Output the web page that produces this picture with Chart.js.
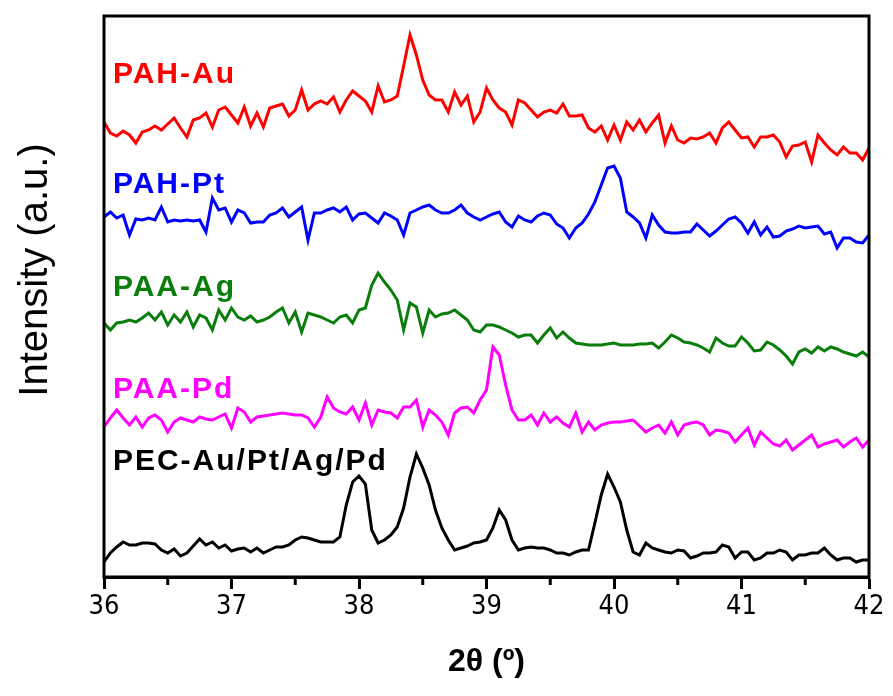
<!DOCTYPE html>
<html>
<head>
<meta charset="utf-8">
<title>XRD patterns</title>
<script src="https://cdn.jsdelivr.net/npm/chart.js@4.4.1/dist/chart.umd.min.js"></script>
<style>
    html, body { margin: 0; padding: 0; background: #ffffff; }
    #grafico { display: block; }
</style>
</head>
<body>
<canvas id="grafico" width="893" height="696"></canvas>
<script>
// --------------- DATA ---------------

// 2theta grid (degrees)
var theta = [
    36, 36.05, 36.1, 36.15, 36.2, 36.25, 36.3, 36.35, 36.4, 36.45,
    36.5, 36.55, 36.6, 36.65, 36.7, 36.75, 36.8, 36.85, 36.9, 36.95,
    37, 37.05, 37.1, 37.15, 37.2, 37.25, 37.3, 37.35, 37.4, 37.45,
    37.5, 37.55, 37.6, 37.65, 37.7, 37.75, 37.8, 37.85, 37.9, 37.95,
    38, 38.05, 38.1, 38.15, 38.2, 38.25, 38.3, 38.35, 38.4, 38.45,
    38.5, 38.55, 38.6, 38.65, 38.7, 38.75, 38.8, 38.85, 38.9, 38.95,
    39, 39.05, 39.1, 39.15, 39.2, 39.25, 39.3, 39.35, 39.4, 39.45,
    39.5, 39.55, 39.6, 39.65, 39.7, 39.75, 39.8, 39.85, 39.9, 39.95,
    40, 40.05, 40.1, 40.15, 40.2, 40.25, 40.3, 40.35, 40.4, 40.45,
    40.5, 40.55, 40.6, 40.65, 40.7, 40.75, 40.8, 40.85, 40.9, 40.95,
    41, 41.05, 41.1, 41.15, 41.2, 41.25, 41.3, 41.35, 41.4, 41.45,
    41.5, 41.55, 41.6, 41.65, 41.7, 41.75, 41.8, 41.85, 41.9, 41.95,
    42
];

// intensities (a.u., curves already stacked as in the figure)
var pahAu = [
    455, 444, 441, 446, 442, 434, 445, 447, 451, 447,
    453, 459, 449, 440, 457, 459, 464, 450, 467, 470,
    462, 454, 470, 451, 464, 450, 469, 471, 473, 461,
    467, 487, 467, 473, 476, 473, 480, 465, 477, 486,
    481, 476, 465, 491, 475, 477, 481, 511, 542, 522,
    497, 482, 477, 477, 465, 485, 472, 481, 455, 465,
    489, 477, 469, 465, 452, 477, 474, 467, 460, 465,
    467, 464, 473, 461, 461, 462, 449, 445, 451, 437,
    452, 437, 455, 447, 457, 445, 454, 462, 434, 451,
    437, 434, 439, 438, 440, 444, 434, 449, 455, 447,
    439, 440, 430, 440, 440, 442, 435, 420, 431, 432,
    435, 415, 442, 434, 427, 422, 430, 424, 424, 417,
    429
];
var pahPt = [
    360, 365, 359, 362, 342, 358, 357, 359, 357, 370,
    355, 357, 356, 357, 356, 357, 345, 379, 367, 369,
    355, 367, 364, 354, 355, 355, 362, 364, 369, 360,
    365, 370, 337, 364, 364, 367, 369, 365, 370, 357,
    363, 364, 359, 354, 364, 361, 357, 342, 364, 367,
    370, 372, 367, 364, 364, 367, 372, 364, 360, 357,
    360, 363, 365, 355, 350, 361, 357, 355, 361, 364,
    362, 353, 349, 339, 349, 354, 363, 375, 392, 409,
    411, 399, 365, 360, 354, 339, 362, 352, 345, 344,
    344, 345, 345, 353, 347, 341, 346, 352, 358, 360,
    354, 344, 355, 342, 350, 340, 341, 346, 348, 351,
    349, 350, 351, 343, 345, 329, 339, 339, 335, 334,
    342
];
var paaAg = [
    254, 247, 254, 255, 257, 255, 259, 264, 257, 265,
    252, 262, 255, 265, 250, 262, 259, 247, 267, 257,
    269, 260, 257, 261, 255, 257, 260, 265, 269, 254,
    265, 245, 264, 262, 260, 257, 254, 260, 262, 254,
    267, 269, 292, 304, 295, 287, 277, 247, 274, 270,
    244, 267, 260, 263, 264, 267, 262, 257, 247, 245,
    252, 252, 250, 247, 244, 240, 242, 242, 234, 242,
    249, 239, 245, 239, 234, 233, 232, 232, 232, 233,
    234, 232, 232, 232, 233, 233, 234, 229, 235, 242,
    239, 235, 234, 232, 229, 225, 239, 234, 231, 231,
    240, 234, 226, 227, 235, 232, 227, 221, 213, 225,
    228, 224, 230, 226, 230, 228, 225, 223, 221, 225,
    220
];
var paaPd = [
    150, 159, 167, 159, 152, 160, 150, 159, 162, 157,
    145, 155, 159, 157, 155, 160, 158, 157, 160, 163,
    149, 169, 165, 155, 160, 161, 162, 163, 164, 163,
    162, 162, 159, 150, 160, 180, 169, 165, 163, 170,
    157, 174, 152, 167, 165, 164, 159, 170, 170, 177,
    150, 167, 162, 155, 142, 164, 169, 170, 164, 177,
    187, 230, 222, 192, 167, 157, 157, 162, 152, 164,
    155, 160, 154, 150, 164, 145, 155, 147, 152, 154,
    155, 155, 156, 157, 151, 145, 149, 152, 144, 155,
    142, 152, 154, 155, 152, 142, 147, 146, 144, 135,
    142, 149, 132, 145, 139, 133, 131, 137, 127, 132,
    137, 142, 130, 133, 135, 137, 130, 135, 139, 130,
    137
];
var pecMix = [
    15, 24, 30, 35, 32, 32, 34, 34, 33, 27,
    24, 28, 21, 24, 31, 38, 32, 35, 29, 32,
    26, 28, 29, 25, 29, 24, 27, 30, 30, 32,
    37, 40, 39, 37, 35, 35, 35, 40, 72, 95,
    101, 93, 47, 34, 37, 42, 50, 69, 100, 123,
    109, 92, 67, 49, 37, 27, 29, 31, 34, 35,
    37, 49, 67, 57, 37, 27, 29, 30, 29, 29,
    27, 24, 24, 22, 25, 27, 27, 54, 82, 103,
    90, 75, 47, 25, 22, 34, 29, 27, 25, 24,
    27, 26, 19, 21, 24, 24, 25, 32, 30, 19,
    25, 25, 17, 19, 24, 24, 27, 25, 17, 22,
    22, 24, 24, 29, 22, 17, 19, 19, 15, 17,
    17
];

var sampleNames = ["PAH-Au", "PAH-Pt", "PAA-Ag", "PAA-Pd", "PEC-Au/Pt/Ag/Pd"];
var sampleColors = ["#ff0000", "#0000ff", "#0b7d0b", "#ff00ff", "#000000"];
var allSeries = [pahAu, pahPt, paaAg, paaPd, pecMix];

var minorTicks = [36.5, 37.5, 38.5, 39.5, 40.5, 41.5];

// where the sample names sit (data coordinates)
var nameX = 36.07;
var nameY = [502, 392, 289, 187, 115];


// --------------- FUNCTIONS ---------------

function toPoints(values) {
    var pts = [];
    for (var i = 0; i < values.length; i++) {
        pts.push({ x: theta[i], y: values[i] });
    }
    return pts;
}

var frameAndNames = {
    id: 'frameAndNames',
    afterDatasetsDraw: function(chart) {
        var ctx = chart.ctx;
        var area = chart.chartArea;
        var xs = chart.scales.x;
        var ys = chart.scales.y;

        ctx.save();
        ctx.strokeStyle = '#000000';
        ctx.lineWidth = 3;
        ctx.strokeRect(area.left, area.top, area.right - area.left, area.bottom - area.top);

        // minor ticks, shorter than the labelled ones
        for (var i = 0; i < minorTicks.length; i++) {
            var px = xs.getPixelForValue(minorTicks[i]);
            ctx.beginPath();
            ctx.moveTo(px, area.bottom);
            ctx.lineTo(px, area.bottom + 8);
            ctx.stroke();
        }

        // y axis title, a bit above the middle like in the figure
        ctx.save();
        ctx.translate(36, 270);
        ctx.rotate(-Math.PI / 2);
        ctx.font = '40px "Liberation Sans", Arial, sans-serif';
        ctx.fillStyle = '#000000';
        ctx.textAlign = 'center';
        ctx.textBaseline = 'middle';
        ctx.fillText('Intensity (a.u.)', 0, 0);
        ctx.restore();

        ctx.font = 'bold 30px "Liberation Sans", Arial, sans-serif';
        ctx.letterSpacing = '2px';
        ctx.textAlign = 'left';
        ctx.textBaseline = 'middle';
        for (var j = 0; j < sampleNames.length; j++) {
            ctx.fillStyle = sampleColors[j];
            ctx.fillText(sampleNames[j], xs.getPixelForValue(nameX), ys.getPixelForValue(nameY[j]));
        }
        ctx.restore();
    }
};

var datasets = [];
for (var k = 0; k < allSeries.length; k++) {
    datasets.push({
        label: sampleNames[k],
        data: toPoints(allSeries[k]),
        borderColor: sampleColors[k],
        borderWidth: 3,
        pointRadius: 0,
        tension: 0,
        fill: false
    });
}

var ctx = document.getElementById('grafico');
var chart = new Chart(ctx, {
    type: 'line',
    data: { datasets: datasets },
    options: {
        responsive: false,
        animation: false,
        devicePixelRatio: 1,
        layout: { padding: { top: 16, right: 24, left: 0, bottom: 0 } },
        plugins: {
            legend: { display: false },
            tooltip: { enabled: false }
        },
        scales: {
            x: {
                type: 'linear',
                min: 36,
                max: 42,
                afterFit: function(scale) { scale.height = 119; },
                border: { display: true, color: '#000000', width: 3 },
                grid: {
                    drawOnChartArea: false,
                    drawTicks: true,
                    tickLength: 12,
                    tickWidth: 3,
                    tickColor: '#000000'
                },
                ticks: {
                    stepSize: 1,
                    autoSkip: false,
                    maxRotation: 0,
                    color: '#000000',
                    padding: 2,
                    font: { family: '"Liberation Sans Narrow", "DejaVu Sans Condensed", sans-serif', size: 27 }
                },
                title: {
                    display: true,
                    text: '2θ (º)',
                    color: '#000000',
                    font: { family: '"Liberation Sans Narrow", "Liberation Sans", sans-serif', size: 32, weight: 'bold' },
                    padding: { top: 0, bottom: 15 }
                }
            },
            y: {
                min: 0,
                max: 561,
                afterFit: function(scale) { scale.width = 104; },
                border: { display: false },
                grid: { display: false },
                ticks: { display: false },
                title: { display: false }
            }
        }
    },
    plugins: [frameAndNames]
});
</script>
</body>
</html>
